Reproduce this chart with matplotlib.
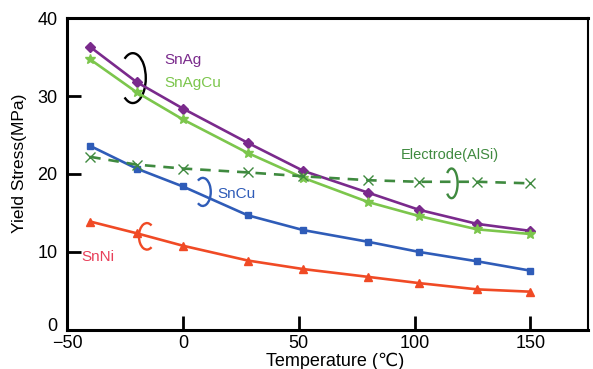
import matplotlib
matplotlib.use("Agg")
import matplotlib.pyplot as plt
import matplotlib.transforms as mtransforms
from matplotlib.patches import Arc

plt.rcParams['font.family'] = ['Liberation Sans', 'DejaVu Sans']

# Data
temps = [-40, -20, 0, 28, 52, 80, 102, 127, 150]
sn_ag = [36.3, 31.8, 28.4, 24.0, 20.4, 17.6, 15.4, 13.6, 12.7]
sn_agcu = [34.7, 30.5, 27.0, 22.7, 19.5, 16.4, 14.6, 12.9, 12.3]
sn_cu = [23.6, 20.7, 18.4, 14.7, 12.8, 11.3, 10.0, 8.8, 7.6]
sn_ni = [13.9, 12.4, 10.8, 8.9, 7.8, 6.8, 6.0, 5.2, 4.9]
electrode = [22.2, 21.2, 20.7, 20.2, 19.7, 19.2, 19.0, 19.0, 18.8]

c_ag = '#7a2a8c'
c_agcu = '#7cc64c'
c_cu = '#2f5cb8'
c_ni = '#f04a25'
c_el = '#3f8a3f'

fig = plt.figure(figsize=(5.93, 3.69), dpi=100)
ax = fig.add_axes([0.113, 0.106, 0.879, 0.845])

ax.plot(temps, sn_ag, color=c_ag, marker='D', markersize=5, linewidth=1.9)
ax.plot(temps, sn_agcu, color=c_agcu, marker='*', markersize=7.5, linewidth=1.9)
ax.plot(temps, sn_cu, color=c_cu, marker='s', markersize=5, linewidth=1.9)
ax.plot(temps, sn_ni, color=c_ni, marker='^', markersize=6, linewidth=1.9)
ax.plot(temps, electrode, color=c_el, marker='x', markersize=6.5, linewidth=1.9,
        linestyle=(0, (4, 3)))

# bracket loops
ax.add_patch(Arc((-21.6, 32.3), 11.2, 6.4, theta1=-145, theta2=145, color='black', lw=1.7))
ax.add_patch(Arc((8.6, 17.7), 6.9, 3.6, theta1=-145, theta2=145, color=c_cu, lw=1.7))
ax.add_patch(Arc((-15.5, 12.0), 6.9, 3.4, theta1=35, theta2=325, color=c_ni, lw=1.7))
ax.add_patch(Arc((116, 18.8), 5.2, 3.8, theta1=-145, theta2=145, color=c_el, lw=1.7))

ax.text(-7.8, 34.6, 'SnAg', color=c_ag, fontsize=11, va='center')
ax.text(-7.8, 31.7, 'SnAgCu', color=c_agcu, fontsize=11, va='center')
ax.text(14.8, 17.4, 'SnCu', color=c_cu, fontsize=11, va='center')
ax.text(-44, 9.4, 'SnNi', color='#e8405a', fontsize=11, va='center')
ax.text(94, 22.4, 'Electrode(AlSi)', color=c_el, fontsize=10.5, va='center')

ax.set_xlim(-50, 175)
ax.set_ylim(0, 40)
ax.set_xticks([-50, 0, 50, 100, 150])
ax.set_yticks([0, 10, 20, 30, 40])
ax.tick_params(axis='both', direction='in', length=10, width=2, labelsize=13)
ax.tick_params(axis='x', pad=4)
ax.tick_params(axis='y', pad=7)
for s in ax.spines.values():
    s.set_linewidth(2.2)
ax.spines['right'].set_linewidth(1.5)

# nudge the y "0" up so it clears the "-50" below it
fig.canvas.draw()
zero_lbl = ax.get_yticklabels()[0]
zero_lbl.set_transform(zero_lbl.get_transform() +
                       mtransforms.ScaledTranslation(0, 4 / 72, fig.dpi_scale_trans))

ax.set_xlabel('Temperature (℃)', fontsize=13)
ax.xaxis.set_label_coords(0.514, -0.074)
ax.set_ylabel('Yield Stress(MPa)', fontsize=12.5)
ax.yaxis.set_label_coords(-0.076, 0.534)

fig.savefig('out.png', dpi=100)
